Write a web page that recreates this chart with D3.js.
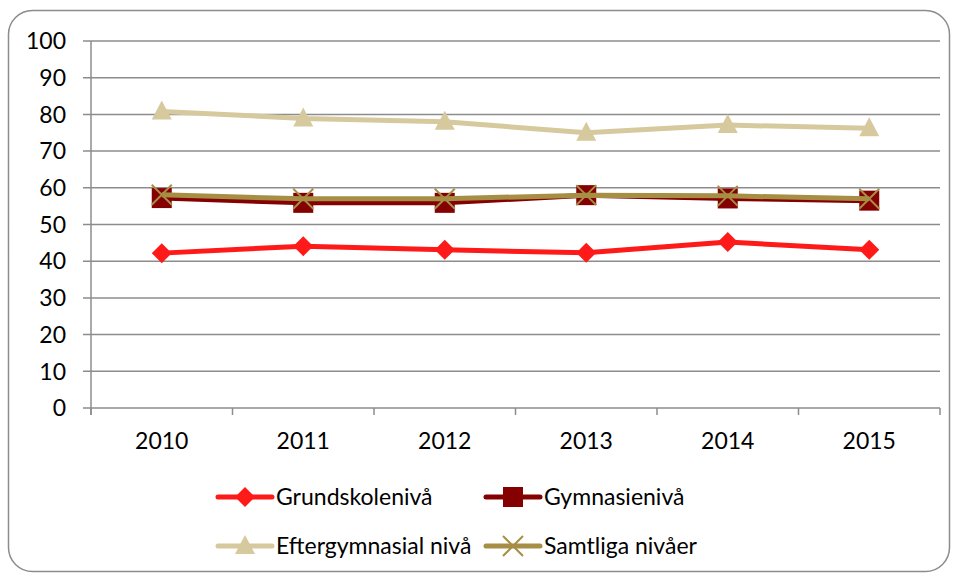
<!DOCTYPE html>
<html>
<head>
<meta charset="utf-8">
<script src="https://cdn.jsdelivr.net/npm/d3@7"></script>
<style>
  body { margin: 0; background: #fff; }
  svg { font-family: Lato, "Open Sans", sans-serif; }
</style>
</head>
<body>
<svg id="s" width="957" height="577"></svg>
<script>
var years = ["2010", "2011", "2012", "2013", "2014", "2015"];
var yTicks = [0, 10, 20, 30, 40, 50, 60, 70, 80, 90, 100];

var grund = [42.2, 44.1, 43.1, 42.3, 45.2, 43.1];
var gymn = [57.2, 55.9, 55.9, 58.0, 57.1, 56.5];
var efter = [80.8, 78.9, 78.0, 75.0, 77.1, 76.2];
var samt = [58.1, 57.0, 57.0, 58.0, 57.8, 57.0];

var names = ["Grundskolenivå", "Gymnasienivå", "Eftergymnasial nivå", "Samtliga nivåer"];
var colors = ["#ff1a1a", "#850000", "#d6c99e", "#a68f45"];
var shapes = ["diamond", "square", "triangle", "cross"];

var svg = d3.select("#s");

// outer frame
svg.append("rect")
  .attr("x", 8.5).attr("y", 10.5)
  .attr("width", 941).attr("height", 561)
  .attr("rx", 24).attr("ry", 24)
  .attr("fill", "#fff").attr("stroke", "#8c8c8c").attr("stroke-width", 1.5);

var pLeft = 91, pRight = 940, pTop = 41, pBottom = 408;

var x = d3.scaleBand().domain(years).range([pLeft, pRight]);
var y = d3.scaleLinear().domain([0, 100]).range([pBottom, pTop]);

// gridlines
svg.append("g").selectAll("line").data(yTicks).enter().append("line")
  .attr("x1", pLeft - 8).attr("x2", pRight)
  .attr("y1", function(d) { return y(d); })
  .attr("y2", function(d) { return y(d); })
  .attr("stroke", "#8c8c8c").attr("stroke-width", 1.5);

// y axis line
svg.append("line")
  .attr("x1", pLeft).attr("x2", pLeft)
  .attr("y1", pTop).attr("y2", pBottom + 7)
  .attr("stroke", "#8c8c8c").attr("stroke-width", 1.5);

// x ticks at band edges
var edges = years.map(function(d) { return x(d); }).concat([pRight]);
svg.append("g").selectAll("line").data(edges).enter().append("line")
  .attr("x1", function(d) { return d; }).attr("x2", function(d) { return d; })
  .attr("y1", pBottom).attr("y2", pBottom + 7)
  .attr("stroke", "#8c8c8c").attr("stroke-width", 1.5);

// y labels
svg.append("g").selectAll("text").data(yTicks).enter().append("text")
  .attr("x", 66)
  .attr("y", function(d) { return y(d); })
  .attr("dy", "0.36em")
  .attr("text-anchor", "end")
  .attr("font-size", 23)
  .attr("fill", "#000")
  .text(function(d) { return d; });

// x labels
svg.append("g").selectAll("text").data(years).enter().append("text")
  .attr("x", function(d) { return x(d) + x.bandwidth() / 2; })
  .attr("y", 441)
  .attr("dy", "0.36em")
  .attr("text-anchor", "middle")
  .attr("font-size", 23)
  .attr("fill", "#000")
  .text(function(d) { return d; });

var line = d3.line()
  .x(function(d, i) { return x(years[i]) + x.bandwidth() / 2; })
  .y(function(d) { return y(d); });

var marker = function(g, shape, color, cx, cy) {
  if (shape == "diamond") {
    g.append("path").attr("d", "M" + cx + "," + (cy - 10) + "L" + (cx + 10) + "," + cy + "L" + cx + "," + (cy + 10) + "L" + (cx - 10) + "," + cy + "Z")
      .attr("fill", color);
  } else if (shape == "square") {
    g.append("rect").attr("x", cx - 10).attr("y", cy - 10).attr("width", 20).attr("height", 20)
      .attr("fill", color);
  } else if (shape == "triangle") {
    g.append("path").attr("d", "M" + cx + "," + (cy - 11) + "L" + (cx + 10) + "," + (cy + 8) + "L" + (cx - 10) + "," + (cy + 8) + "Z")
      .attr("fill", color);
  } else {
    g.append("path").attr("d", "M" + (cx - 10) + "," + (cy - 10) + "L" + (cx + 10) + "," + (cy + 10) + "M" + (cx + 10) + "," + (cy - 10) + "L" + (cx - 10) + "," + (cy + 10))
      .attr("stroke", color).attr("stroke-width", 2);
  }
};

var series = [grund, gymn, efter, samt];
series.forEach(function(vals, k) {
  var g = svg.append("g");
  g.append("path").datum(vals)
    .attr("d", line)
    .attr("fill", "none")
    .attr("stroke", colors[k])
    .attr("stroke-width", 5)
    .attr("stroke-linejoin", "round");
  vals.forEach(function(v, i) {
    marker(g, shapes[k], colors[k], x(years[i]) + x.bandwidth() / 2, y(v));
  });
});

// legend
var legPos = [[218, 497], [486, 497], [218, 546], [486, 546]];
names.forEach(function(n, k) {
  var g = svg.append("g");
  var lx = legPos[k][0], ly = legPos[k][1];
  g.append("line").attr("x1", lx).attr("x2", lx + 54).attr("y1", ly).attr("y2", ly)
    .attr("stroke", colors[k]).attr("stroke-width", 5).attr("stroke-linecap", "round");
  marker(g, shapes[k], colors[k], lx + 27, ly);
  g.append("text").attr("x", lx + 58).attr("y", ly).attr("dy", "0.36em")
    .attr("font-size", 23).attr("fill", "#000").text(n);
});
</script>
</body>
</html>
